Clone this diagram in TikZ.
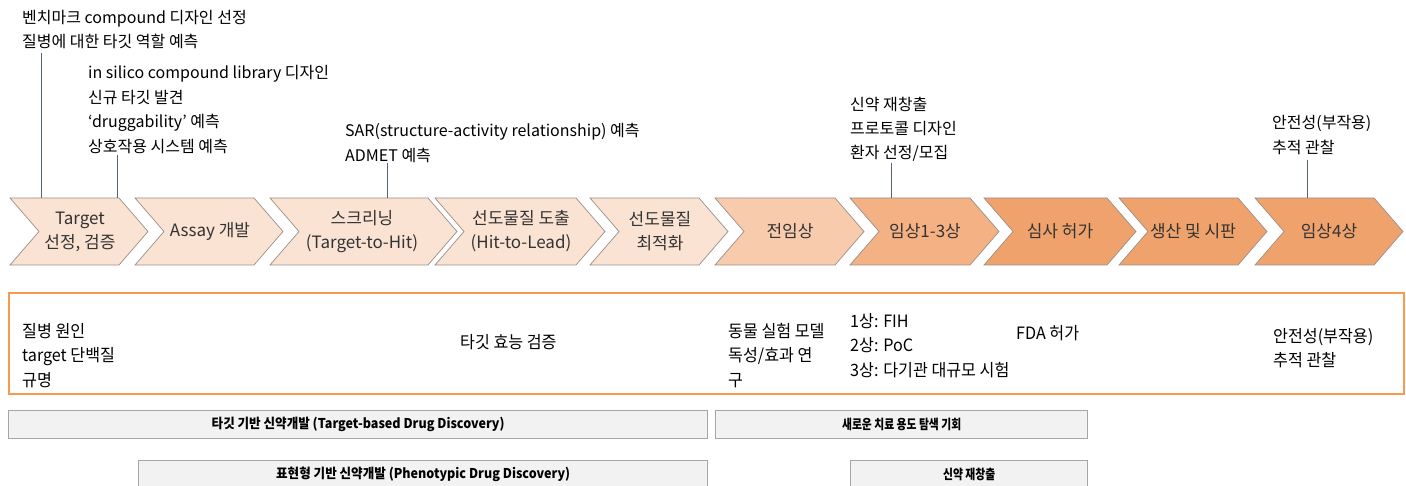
\documentclass[tikz,border=0pt]{standalone}
\usepackage{fontspec}
\setmainfont{Noto Sans CJK KR}
\newfontfamily\narrowf[FakeStretch=0.95]{Noto Sans CJK KR}
\newfontfamily\barf[FakeStretch=0.80]{Noto Sans CJK KR}
\newfontfamily\barlat[FakeStretch=0.93]{Noto Sans CJK KR}
\definecolor{pch}{HTML}{FAE3D3}
\definecolor{pre}{HTML}{F8CBAD}
\definecolor{cli}{HTML}{F4B183}
\definecolor{dark}{HTML}{F0A26D}
\definecolor{chevline}{HTML}{9A8F88}
\definecolor{leadc}{HTML}{55637A}
\definecolor{obox}{HTML}{F7994F}
\definecolor{barfill}{HTML}{F2F2F2}
\definecolor{barline}{HTML}{A6A6A6}
\definecolor{txtg}{HTML}{333333}
\newcommand\chevron[3]{%
  \filldraw[chev, fill=#3] (#1,198) -- ({#2-29},198) -- (#2,231.5) -- ({#2-29},265) -- (#1,265) -- ({#1+29},231.5) -- cycle;}
\begin{document}
\begin{tikzpicture}[x=1pt,y=-1pt,
  ann/.style={anchor=north west, inner sep=0, align=left, font=\fontsize{16}{24.4}\selectfont, text=black},
  lbl/.style={align=center, inner sep=0, font=\fontsize{17}{24}\selectfont, text=txtg},
  chev/.style={draw=chevline, line width=0.7pt},
  leader/.style={draw=leadc, line width=0.8pt},
  boxtxt/.style={anchor=north west, inner sep=0, align=left, font=\narrowf\fontsize{17}{24.6}\selectfont, text=black},
  bar/.style={draw=barline, fill=barfill, line width=1.3pt, inner sep=0, anchor=north west, minimum height=28pt},
  bartxt/.style={font=\barf\bfseries\fontsize{13.5}{15}\selectfont, text=black},
  bartxtl/.style={font=\barlat\bfseries\fontsize{13.5}{15}\selectfont, text=black}]
\useasboundingbox (0,0) rectangle (1406,486);
% chevrons
\chevron{10}{148}{pch}
\chevron{135}{283}{pch}
\chevron{270}{457}{pch}
\chevron{435}{605}{pch}
\chevron{590}{728}{pch}
\chevron{715}{864}{pre}
\chevron{850}{999}{cli}
\chevron{984}{1136}{dark}
\chevron{1119}{1267}{dark}
\chevron{1255}{1403}{dark}
\node[lbl] (c1) at (80,231.5) {Target\\선정, 검증};
\node[lbl] (c2) at (210,231.5) {Assay 개발};
\node[lbl] (c3) at (362,231.5) {스크리닝\\(Target-to-Hit)};
\node[lbl] (c4) at (521,231.5) {선도물질 도출\\(Hit-to-Lead)};
\node[lbl] (c5) at (660,231.5) {선도물질\\최적화};
\node[lbl] (c6) at (790,231.5) {전임상};
\node[lbl] (c7) at (925,231.5) {임상1-3상};
\node[lbl] (c8) at (1060,231.5) {심사 허가};
\node[lbl] (c9) at (1193,231.5) {생산 및 시판};
\node[lbl] (c10) at (1329,231.5) {임상4상};
% annotations
\node[ann] (a1) at (22,10) {벤치마크 compound 디자인 선정\\질병에 대한 타깃 역할 예측};
\node[ann] (a2) at (88,65.5) {in silico compound library 디자인\\신규 타깃 발견\\‘druggability’ 예측\\상호작용 시스템 예측};
\node[ann] (a3) at (345,123.5) {SAR(structure-activity relationship) 예측\\ADMET 예측};
\node[ann] (a4) at (850,96.5) {신약 재창출\\프로토콜 디자인\\환자 선정/모집};
\node[ann] (a5) at (1272,115.5) {안전성(부작용)\\추적 관찰};
% leaders
\coordinate (s1) at (41,53);   \coordinate (e1) at (41,198);
\coordinate (s2) at (117,155); \coordinate (e2) at (117,198);
\coordinate (s3) at (387,163); \coordinate (e3) at (387,198);
\coordinate (s4) at (891,163); \coordinate (e4) at (891,198);
\coordinate (s5) at (1307,160); \coordinate (e5) at (1307,198);
\draw[leader] (s1) -- (e1);
\draw[leader] (s2) -- (e2);
\draw[leader] (s3) -- (e3);
\draw[leader] (s4) -- (e4);
\draw[leader] (s5) -- (e5);
% orange box
\node[draw=obox, line width=2pt, anchor=north west, minimum width=1395pt, minimum height=101pt, inner sep=0] (ob) at (8,292) {};
\node[boxtxt] (t1) at (22,323) {질병 원인\\target 단백질\\규명};
\node[boxtxt, anchor=west] (t2) at (460,342) {타깃 효능 검증};
\node[boxtxt] (t3) at (728,323) {동물 실험 모델\\독성/효과 연\\구};
\node[boxtxt] (t4) at (850,313) {1상: FIH\\2상: PoC\\3상: 다기관 대규모 시험};
\node[boxtxt, anchor=west] (t5) at (1016,333) {FDA 허가};
\node[boxtxt] (t6) at (1273,328) {안전성(부작용)\\추적 관찰};
% bars
\node[bar, minimum width=699pt] (b1) at (8,410) {};
\node[bartxtl] (b1t) at (b1.center) {타깃 기반 신약개발 (Target-based Drug Discovery)};
\node[bar, minimum width=372pt] (b2) at (715,410) {};
\node[bartxt] (b2t) at (b2.center) {새로운 치료 용도 탐색 기회};
\node[bar, minimum width=569pt] (b3) at (138,460) {};
\node[bartxtl] (b3t) at (b3.center) {표현형 기반 신약개발 (Phenotypic Drug Discovery)};
\node[bar, minimum width=237pt] (b4) at (850,460) {};
\node[bartxt] (b4t) at (b4.center) {신약 재창출};
\end{tikzpicture}
\end{document}
